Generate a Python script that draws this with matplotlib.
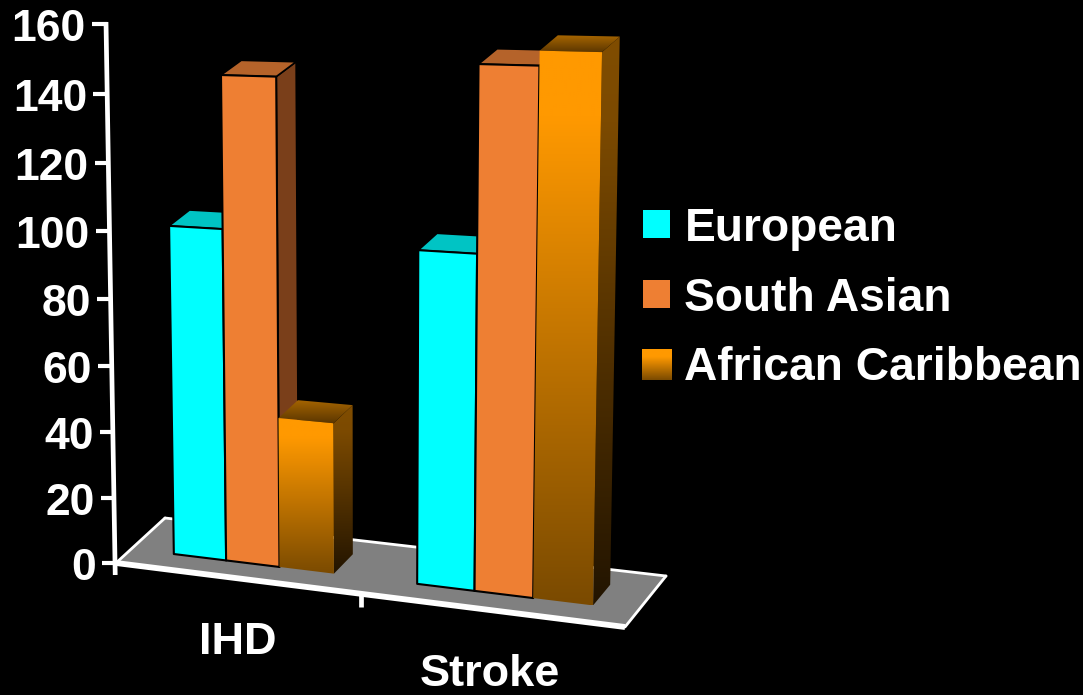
import numpy as np
import matplotlib
matplotlib.use("Agg")
import matplotlib.pyplot as plt
from matplotlib.colors import LinearSegmentedColormap
from matplotlib.patches import Polygon, Rectangle

# Chart data
categories = ["IHD", "Stroke"]
series_names = ["European", "South Asian", "African Caribbean"]
european = [98.7, 96]
south_asian = [143, 148]
african_caribbean = [44.5, 152]
tick_values = [0, 20, 40, 60, 80, 100, 120, 140, 160]

plt.rcParams["font.family"] = ["Liberation Sans", "DejaVu Sans"]
plt.rcParams["font.weight"] = "bold"

W, H = 1083, 695
fig = plt.figure(figsize=(W / 100, H / 100), dpi=100, facecolor="black")
ax = fig.add_axes([0, 0, 1, 1])
ax.set_facecolor("black")
ax.axis("off")

# Camera for the oblique box: floor plane corners and the vanishing point of verticals
FLOOR_CORNERS = np.array([[116, 563], [625, 627], [666, 576], [165, 518]], float)
VERTICAL_VP = np.array([371.0, 14300.0])
AXIS_TOP_Y = 24.0
AXIS_MAX = 160.0


def floor_homography(c):
    rows, rhs = [], []
    for (u, d), (x, y) in zip([(0, 0), (1, 0), (1, 1), (0, 1)], c):
        rows.append([u, d, 1, 0, 0, 0, -u * x, -d * x])
        rows.append([0, 0, 0, u, d, 1, -u * y, -d * y])
        rhs += [x, y]
    s = np.linalg.solve(np.array(rows, float), np.array(rhs, float))
    return np.array([[s[0], s[1], s[2]], [s[3], s[4], s[5]], [s[6], s[7], 1.0]])


HOMOG = floor_homography(FLOOR_CORNERS)
y0 = FLOOR_CORNERS[0, 1]
k = (AXIS_TOP_Y - y0) / (VERTICAL_VP[1] - AXIS_TOP_Y)
V_DIR = (k / AXIS_MAX) * np.array([VERTICAL_VP[0], VERTICAL_VP[1], 1.0])


def project(u, d, v=0.0):
    """Map (position along x, depth, value) to canvas pixels."""
    p = HOMOG @ np.array([u, d, 1.0]) + v * V_DIR
    return p[0] / p[2], p[1] / p[2]


zo = [1]


def next_z():
    zo[0] += 1
    return zo[0]


def solid(points, color, edge="none", lw=0.0):
    ax.add_patch(Polygon(points, closed=True, facecolor=color, edgecolor=edge,
                         linewidth=lw, joinstyle="round", zorder=next_z()))


def graded(points, stops):
    pts = np.array(points)
    z = next_z()
    cmap = LinearSegmentedColormap.from_list("g", stops)
    patch = Polygon(pts, closed=True, facecolor="none", edgecolor="none",
                    transform=ax.transData, zorder=z)
    ax.add_patch(patch)
    grad = np.linspace(0, 1, 256)[:, None]
    im = ax.imshow(grad, cmap=cmap, vmin=0, vmax=1, aspect="auto", origin="upper",
                   extent=(pts[:, 0].min(), pts[:, 0].max(), pts[:, 1].max(), pts[:, 1].min()),
                   zorder=z, interpolation="bilinear")
    im.set_clip_path(patch)


ax.set_xlim(0, W)
ax.set_ylim(H, 0)

# Floor and its outline
solid([project(0, 0), project(1, 0), project(1, 1), project(0, 1)], "#808080")
ax.plot(*zip(project(0, 1), project(1, 1)), color="white", lw=2.0, zorder=next_z(), solid_capstyle="round")
ax.plot(*zip(project(1, 1), project(1, 0)), color="white", lw=2.0, zorder=next_z(), solid_capstyle="round")
ax.plot(*zip(project(0, 0), project(0, 1)), color="white", lw=2.0, zorder=next_z(), solid_capstyle="round")
ax.plot(*zip(project(0, 0), project(1, 0)), color="white", lw=4.2, zorder=next_z(), solid_capstyle="butt")

# Tick between the two categories
mx, my = project(0.5, 0)
ax.plot([mx + 3, mx + 3], [my, my + 14], color="white", lw=3.4, zorder=next_z(), solid_capstyle="butt")

# Value axis with ticks and labels
bx, by = project(0, 0, 0)
tx, ty = project(0, 0, AXIS_MAX)
ax_dx = (bx - tx) / (by - ty)
ax.plot([tx, bx - 1 + ax_dx * 12], [ty - 2, by + 12], color="white", lw=3.4, zorder=60, solid_capstyle="butt")
for tv in tick_values:
    px, py = project(0, 0, tv)
    ax.plot([px - 14, px + 1], [py, py], color="white", lw=3.0, zorder=60, solid_capstyle="butt")
    ax.text(px - 20, py + 17, str(tv), color="white", fontsize=32, ha="right", va="baseline")

# Bars
BAR_W = 0.1105
D0, D1 = 0.31, 0.72
GROUP_CENTRES = [0.257, 0.753]
ORANGE_FRONT = [(0, "#FF9900"), (0.12, "#FF9900"), (1, "#7A4A00")]
ORANGE_SIDE = [(0, "#804D00"), (0.15, "#7C4A00"), (1, "#221400")]
ORANGE_TOP = [(0, "#A86600"), (1, "#5C3700")]
series_values = [european, south_asian, african_caribbean]
flat_styles = [
    {"front": "#00FFFF", "top": "#00C4C4", "side": "#008080"},
    {"front": "#EE7F33", "top": "#B5632A", "side": "#7A3F1A"},
    None,
]

for c, centre in enumerate(GROUP_CENTRES):
    for s, values in enumerate(series_values):
        v = values[c]
        u0 = centre + (s - 1.5) * BAR_W
        u1 = u0 + BAR_W
        front = [project(u0, D0, 0), project(u1, D0, 0), project(u1, D0, v), project(u0, D0, v)]
        side = [project(u1, D0, 0), project(u1, D1, 0), project(u1, D1, v), project(u1, D0, v)]
        top = [project(u0, D0, v), project(u1, D0, v), project(u1, D1, v), project(u0, D1, v)]
        style = flat_styles[s]
        if style is None:
            graded(side, ORANGE_SIDE)
            graded(top, ORANGE_TOP)
            graded(front, ORANGE_FRONT)
        else:
            solid(side, style["side"], "black", 1.2)
            solid(top, style["top"], "black", 1.2)
            solid(front, style["front"], "black", 1.5)

# Category labels
for name, centre in zip(categories, GROUP_CENTRES):
    lx, ly = project(centre, 0)
    ax.text(lx, ly + 76, name, color="white", fontsize=32.5, ha="center", va="baseline")

# Legend
legend_tops = [210, 280, 349]
for name, top_y, style in zip(series_names, legend_tops, flat_styles):
    if style is None:
        ys = top_y + 31
        graded([(642, top_y), (672, top_y), (672, ys), (642, ys)], [(0, "#FF9900"), (0.25, "#FF9900"), (1, "#7A4A00")])
    else:
        ax.add_patch(Rectangle((643, top_y), 27, 28, facecolor=style["front"], edgecolor="none", zorder=next_z()))
    ax.text(684.5, top_y + 31, name, color="white", fontsize=33.2, ha="left", va="baseline", zorder=next_z())

ax.set_xlim(0, W)
ax.set_ylim(H, 0)
fig.savefig("out.png", dpi=100, facecolor="black")
